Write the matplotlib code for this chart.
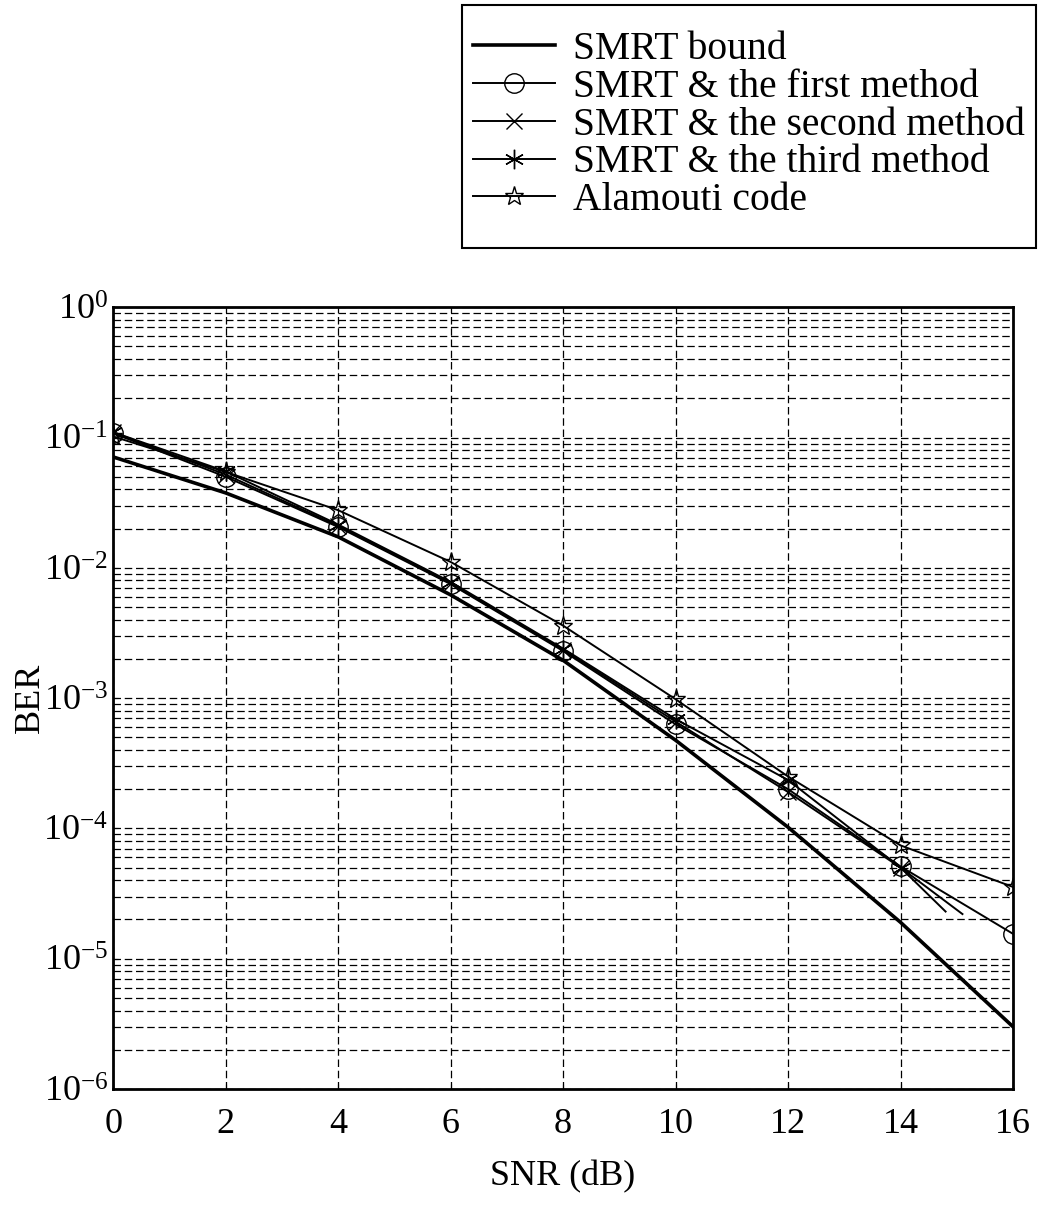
import numpy as np
import matplotlib
matplotlib.use('Agg')
import matplotlib.pyplot as plt
from matplotlib.patches import Rectangle
from matplotlib.ticker import LogLocator, NullFormatter

plt.rcParams['font.family'] = ['Liberation Serif', 'DejaVu Serif']
plt.rcParams['mathtext.fontset'] = 'custom'
plt.rcParams['mathtext.rm'] = 'Liberation Serif'

# Valeurs
snr = [0, 2, 4, 6, 8, 10, 12, 14, 16]
ber_bound = [0.071, 0.0376, 0.0173, 0.0062, 0.00195, 4.75e-4, 1.02e-4, 1.9e-5, 3.0e-6]
ber_first = [0.108, 0.050, 0.0206, 0.0075, 0.0023, 6.3e-4, 2.0e-4, 5.1e-5, 1.55e-5]

snr_second = [0, 2, 4, 6, 8, 10, 12, 14, 14.8]
ber_second = [0.11, 0.052, 0.021, 0.0076, 0.00235, 6.6e-4, 1.9e-4, 5.0e-5, 2.3e-5]

snr_third = [0, 2, 4, 6, 8, 10, 12, 14, 15.1]
ber_third = [0.11, 0.055, 0.0215, 0.0078, 0.0024, 6.9e-4, 2.35e-4, 5.0e-5, 2.2e-5]

ber_alamouti = [0.102, 0.0545, 0.0277, 0.0111, 0.0036, 9.8e-4, 2.5e-4, 7.4e-5, 3.55e-5]

y_ticks = [1e-6, 1e-5, 1e-4, 1e-3, 1e-2, 1e-1, 1e0]

W, H = 1038, 1205
fig = plt.figure(figsize=(W / 100, H / 100), dpi=100)
ax = fig.add_axes([0.109, 0.0963, 0.867, 0.6487])

ax.semilogy(snr, ber_bound, '-', color='k', lw=2.6, label='SMRT bound')
ax.semilogy(snr, ber_first, '-', color='k', lw=1.4, marker='o', ms=14,
            mfc='none', mew=1.0, label='SMRT & the first method')
ax.semilogy(snr_second, ber_second, '-', color='k', lw=1.4, marker='x', ms=12,
            mew=1.0, markevery=list(range(8)), label='SMRT & the second method')
ax.semilogy(snr_third, ber_third, '-', color='k', lw=1.4, marker=(6, 2, 0), ms=14,
            mew=1.0, markevery=list(range(8)), label='SMRT & the third method')
ax.semilogy(snr, ber_alamouti, '-', color='k', lw=1.4, marker='*', ms=14,
            mfc='none', mew=1.0, label='Alamouti code')

ax.set_xlim(0, 16)
ax.set_ylim(1e-6, 1)
ax.set_xticks(range(0, 17, 2))
ax.set_yticks(y_ticks)
ax.yaxis.set_minor_locator(LogLocator(base=10, subs=np.arange(2, 10), numticks=100))
ax.yaxis.set_minor_formatter(NullFormatter())

ax.grid(True, which='major', color='k', ls=(0, (6, 3)), lw=0.9)
ax.grid(True, which='minor', axis='y', color='k', ls=(0, (6, 3)), lw=0.9)
ax.tick_params(which='both', direction='in', labelsize=26, top=False, right=False)
ax.tick_params(axis='x', pad=14)
for sp in ax.spines.values():
    sp.set_linewidth(2)

ax.set_xlabel('SNR (dB)', fontsize=26)
ax.set_ylabel('BER', fontsize=26, va='center')
ax.xaxis.set_label_coords(0.5, -0.091)
ax.yaxis.set_label_coords(-0.092, 0.5)

# Légende (cadre dessiné à part)
leg = fig.legend(loc='upper left', bbox_to_anchor=(473 / W, 1 - 31 / H),
                 fontsize=28.5, handlelength=2.07, handletextpad=0.46, labelspacing=0.02,
                 borderpad=0, borderaxespad=0, frameon=False)
fig.patches.append(Rectangle((462 / W, 1 - 248 / H), (1036 - 462) / W, 243 / H,
                             transform=fig.transFigure, fill=False, ec='k', lw=1.5))

plt.savefig('out.png', dpi=100)
